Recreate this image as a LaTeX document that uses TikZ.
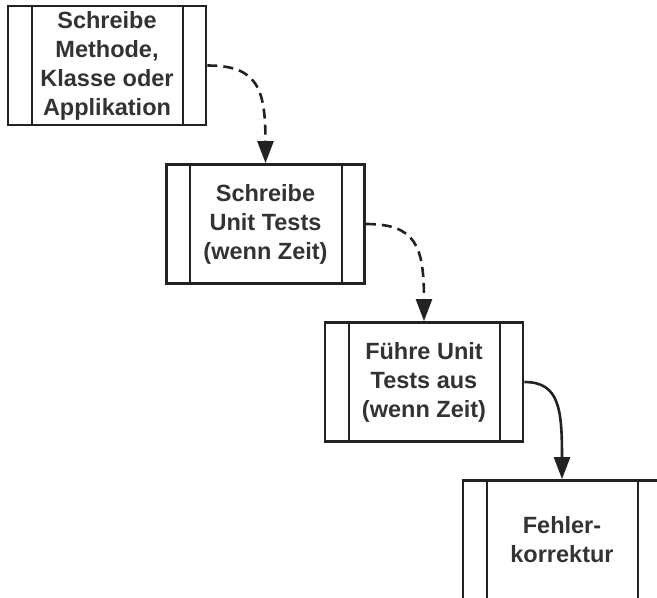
\documentclass[tikz,border=0pt]{standalone}
\usepackage{fontspec}
\setmainfont{Liberation Sans}
\usetikzlibrary{arrows.meta}
\definecolor{ink}{HTML}{222222}
\definecolor{txt}{HTML}{333333}
\tikzset{
  procbox/.style={draw=ink, line width=2.8pt, minimum width=198pt, minimum height=119pt,
    inner sep=0pt, align=center, text=txt,
    font=\fontsize{23.5}{29}\selectfont\bfseries},
  sidebar/.style={draw=ink, line width=2pt},
  flow/.style={draw=ink, line width=2.6pt, -{Triangle[length=22pt,width=16pt]}},
  dflow/.style={flow, dash pattern=on 10pt off 6pt}
}
\begin{document}
\begin{tikzpicture}[x=1pt,y=-1pt]
\useasboundingbox (0,0) rectangle (657,598);
\clip (0,0) rectangle (657,598);
\node[procbox] (b1) at (107,65.5) {Schreibe\\Methode,\\Klasse oder\\Applikation};
\node[procbox] (b2) at (265.5,224) {Schreibe\\Unit Tests\\(wenn Zeit)};
\node[procbox] (b3) at (424,382) {Führe Unit\\Tests aus\\(wenn Zeit)};
\node[procbox] (b4) at (562,540) {Fehler-\\korrektur};
\foreach \b in {b1,b2,b3,b4}{
  \draw[sidebar] ([xshift=25pt]\b.north west) -- ([xshift=25pt]\b.south west);
  \draw[sidebar] ([xshift=-24pt]\b.north east) -- ([xshift=-24pt]\b.south east);
}
\draw[dflow] (b1.east) .. controls +(50,0) and +(0,-75) .. (b2.north);
\draw[dflow] (b2.east) .. controls +(50,0) and +(0,-75) .. (b3.north);
\draw[flow] (b3.east) .. controls +(35,0) and +(0,-70) .. (b4.north);
\end{tikzpicture}
\end{document}
